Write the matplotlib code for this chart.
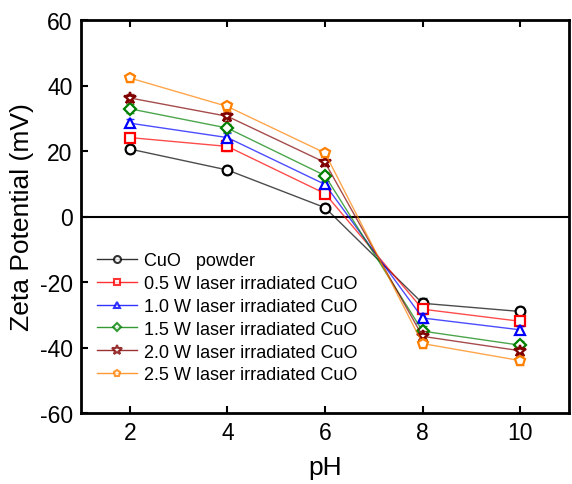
import matplotlib.pyplot as plt
from matplotlib.lines import Line2D

plt.rcParams['font.family'] = ['Liberation Sans', 'DejaVu Sans']
plt.rcParams['axes.unicode_minus'] = False

# pH values and zeta potential (mV) for each sample
ph = [2, 4, 6, 8, 10]
powder = [20.6, 14.2, 2.7, -26.5, -29.0]
w05 = [24.1, 21.4, 7.0, -28.3, -32.0]
w10 = [28.5, 24.1, 9.8, -31.0, -34.6]
w15 = [32.9, 27.0, 12.5, -35.0, -39.3]
w20 = [36.2, 30.6, 16.5, -36.6, -41.0]
w25 = [42.3, 33.6, 19.4, -38.8, -44.0]
err = [1.3, 1.3, 1.0, 1.5, 1.3]

labels = ['CuO   powder',
          '0.5 W laser irradiated CuO',
          '1.0 W laser irradiated CuO',
          '1.5 W laser irradiated CuO',
          '2.0 W laser irradiated CuO',
          '2.5 W laser irradiated CuO']
series = [powder, w05, w10, w15, w20, w25]
colors = ['black', '#ff0000', '#0000ff', '#008000', '#800000', '#ff8000']
markers = ['o', 's', '^', 'D', '*', 'p']
sizes = [7, 7, 7, 6, 9, 7]

fig = plt.figure(figsize=(5.72, 4.85), dpi=100)
ax = fig.add_axes([81/572, 1-414/485, 488/572, 393/485])

handles = []
for y, c, m, ms, lab in zip(series, colors, markers, sizes, labels):
    ax.plot(ph, y, color=c, lw=1, alpha=0.7)
    ax.errorbar(ph, y, yerr=err, fmt='none', ecolor=c, elinewidth=1,
                capsize=3, alpha=0.8)
    ax.plot(ph, y, ls='none', marker=m, ms=ms, mfc='white', mec=c, mew=1.6)
    handles.append(Line2D([], [], color=c, lw=1, alpha=0.8, marker=m,
                          ms=ms - 2, mfc='white', mec=c, mew=1.5))

ax.axhline(0, color='black', lw=1.5, zorder=0)

ax.set_xlim(1, 11)
ax.set_ylim(-60, 60)
ax.set_xticks([2, 4, 6, 8, 10])
ax.set_yticks([-60, -40, -20, 0, 20, 40, 60])
ax.tick_params(direction='in', length=5, width=1.5, labelsize=16.5,
               top=True, right=False, pad=6)
for s in ax.spines.values():
    s.set_linewidth(2)

ax.set_xlabel('pH', fontsize=19, labelpad=8)
ax.set_ylabel('Zeta Potential (mV)', fontsize=19, labelpad=4)

ax.legend(handles, labels, loc='upper left', bbox_to_anchor=(0.0, 0.45),
          frameon=False, fontsize=13, handlelength=2.2, handletextpad=0.4,
          labelspacing=0.32, borderaxespad=0.5)

fig.savefig('out.png', dpi=100)
